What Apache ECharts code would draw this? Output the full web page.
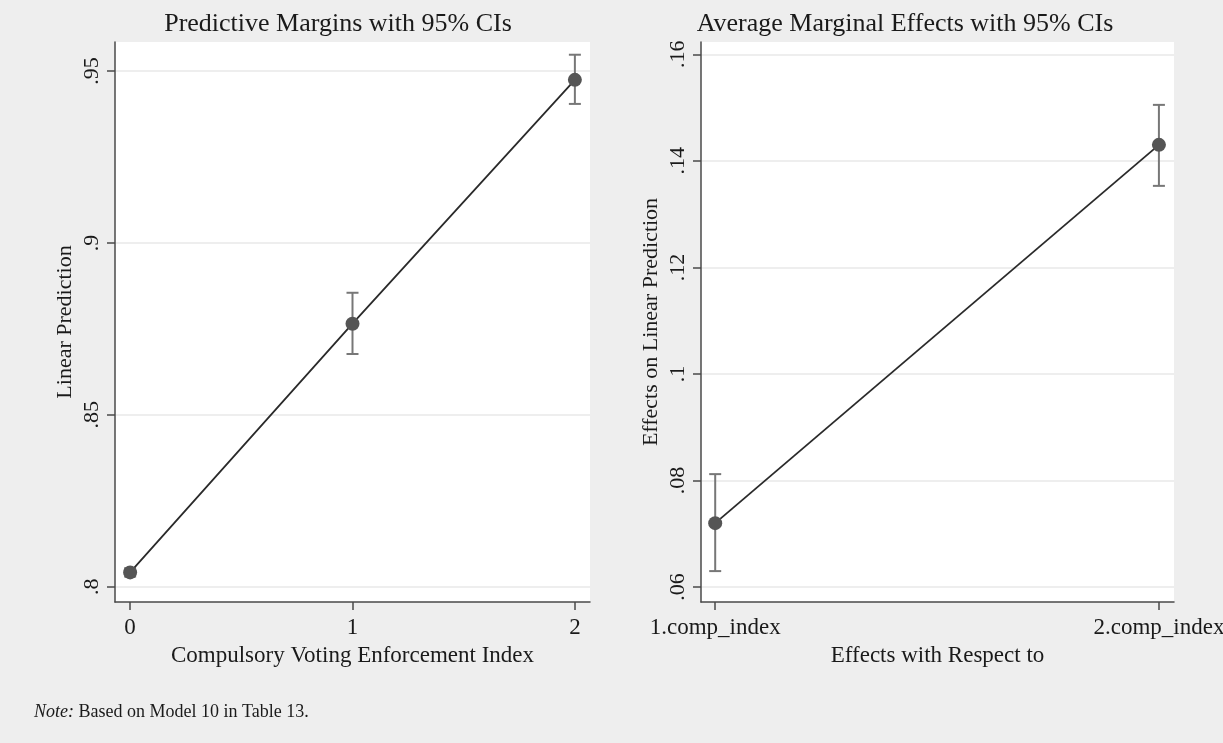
<!DOCTYPE html>
<html>
<head>
<meta charset="utf-8">
<script src="https://cdn.jsdelivr.net/npm/echarts@6/dist/echarts.min.js"></script>
<style>
html,body{margin:0;padding:0;background:#eeeeee;}
#chart{width:1223px;height:743px;}
</style>
</head>
<body>
<div id="chart"></div>
<script>
// Left panel: predictive margins
const leftX = [0, 1, 2];
const leftMargin = [0.8042, 0.8765, 0.9474];
const leftLo = [0.8030, 0.8677, 0.9404];
const leftHi = [0.8054, 0.8855, 0.9547];
const leftXTicks = [0, 1, 2];
const leftYTicks = [0.8, 0.85, 0.9, 0.95];

// Right panel: average marginal effects
const rightCategories = ['1.comp_index', '2.comp_index'];
const rightX = [1, 2];
const rightEffect = [0.0720, 0.1430];
const rightLo = [0.0630, 0.1353];
const rightHi = [0.0812, 0.1505];
const rightYTicks = [0.06, 0.08, 0.1, 0.12, 0.14, 0.16];

const FONT = '"Liberation Serif", "DejaVu Serif", serif';
const TXT = '#1a1a1a';
const AXC = '#4a4a4a';

function stripZero(v){
  let s = String(+v.toFixed(4));
  return s.replace(/^0\./, '.');
}

function yAxisCfg(gi, min, max, ticks, name){
  return {
    type:'value', gridIndex:gi, min:min, max:max,
    name:name, nameLocation:'middle', nameGap:39, nameRotate:90,
    nameTextStyle:{fontFamily:FONT, fontSize:22, color:TXT},
    axisLine:{show:true, onZero:false, lineStyle:{color:AXC, width:1.5}},
    axisTick:{show:true, length:8, customValues:ticks, lineStyle:{color:AXC, width:1.5}},
    axisLabel:{customValues:ticks, rotate:90, margin:12, fontFamily:FONT, fontSize:22, color:TXT, formatter:stripZero},
    splitLine:{show:true, lineStyle:{color:'#e8e8e8', width:1.5}}
  };
}

function xAxisCfg(gi, min, max, ticks, name, fmt){
  return {
    type:'value', gridIndex:gi, min:min, max:max,
    name:name, nameLocation:'middle', nameGap:42,
    nameTextStyle:{fontFamily:FONT, fontSize:23, color:TXT},
    axisLine:{show:true, onZero:false, lineStyle:{color:AXC, width:1.5}},
    axisTick:{show:true, length:8, customValues:ticks, lineStyle:{color:AXC, width:1.5}},
    axisLabel:{customValues:ticks, margin:14, fontFamily:FONT, fontSize:23, color:TXT, formatter:fmt},
    splitLine:{show:false}
  };
}

function errRender(params, api){
  const x = api.value(0), lo = api.value(1), hi = api.value(2);
  const pt = api.coord([x, hi]);
  const pb = api.coord([x, lo]);
  const cw = 6;
  const st = {stroke:'#777777', lineWidth:2};
  return {type:'group', children:[
    {type:'line', shape:{x1:pt[0], y1:pt[1], x2:pb[0], y2:pb[1]}, style:st},
    {type:'line', shape:{x1:pt[0]-cw, y1:pt[1], x2:pt[0]+cw, y2:pt[1]}, style:st},
    {type:'line', shape:{x1:pb[0]-cw, y1:pb[1], x2:pb[0]+cw, y2:pb[1]}, style:st}
  ]};
}

const leftErr = leftX.map((x,i)=>[x, leftLo[i], leftHi[i]]);
const leftPts = leftX.map((x,i)=>[x, leftMargin[i]]);
const rightErr = rightX.map((x,i)=>[x, rightLo[i], rightHi[i]]);
const rightPts = rightX.map((x,i)=>[x, rightEffect[i]]);

const chart = echarts.init(document.getElementById('chart'), null, {renderer:'canvas'});
chart.setOption({
  backgroundColor:'#eeeeee',
  animation:false,
  grid:[
    {left:115, right:633, top:42, bottom:141, show:true, backgroundColor:'#ffffff', borderWidth:0, containLabel:false, outerBoundsMode:'none'},
    {left:701, right:49, top:42, bottom:141, show:true, backgroundColor:'#ffffff', borderWidth:0, containLabel:false, outerBoundsMode:'none'}
  ],
  xAxis:[
    xAxisCfg(0, -0.068, 2.068, leftXTicks, 'Compulsory Voting Enforcement Index', v=>String(v)),
    xAxisCfg(1, 0.968, 2.034, rightX, 'Effects with Respect to', v=>rightCategories[rightX.indexOf(v)] || '')
  ],
  yAxis:[
    yAxisCfg(0, 0.7956, 0.9584, leftYTicks, 'Linear Prediction'),
    yAxisCfg(1, 0.0572, 0.1623, rightYTicks, 'Effects on Linear Prediction')
  ],
  graphic:[
    {type:'text', x:338, y:24, style:{text:'Predictive Margins with 95% CIs', fontFamily:FONT, fontSize:26, fill:TXT, textAlign:'center', textVerticalAlign:'middle'}},
    {type:'text', x:905, y:24, style:{text:'Average Marginal Effects with 95% CIs', fontFamily:FONT, fontSize:26, fill:TXT, textAlign:'center', textVerticalAlign:'middle'}},
    {type:'text', x:34, y:712, style:{text:'{i|Note:} Based on Model 10 in Table 13.', fontFamily:FONT, fontSize:18, fill:TXT, textVerticalAlign:'middle',
      rich:{i:{fontStyle:'italic', fontFamily:FONT, fontSize:18, fill:TXT}}}}
  ],
  series:[
    {type:'custom', xAxisIndex:0, yAxisIndex:0, renderItem:errRender, data:leftErr, z:2},
    {type:'line', xAxisIndex:0, yAxisIndex:0, data:leftPts, symbol:'circle', symbolSize:14,
      lineStyle:{color:'#2a2a2a', width:1.8}, itemStyle:{color:'#555555'}, z:3},
    {type:'custom', xAxisIndex:1, yAxisIndex:1, renderItem:errRender, data:rightErr, z:2},
    {type:'line', xAxisIndex:1, yAxisIndex:1, data:rightPts, symbol:'circle', symbolSize:14,
      lineStyle:{color:'#2a2a2a', width:1.8}, itemStyle:{color:'#555555'}, z:3}
  ]
});
</script>
</body>
</html>
